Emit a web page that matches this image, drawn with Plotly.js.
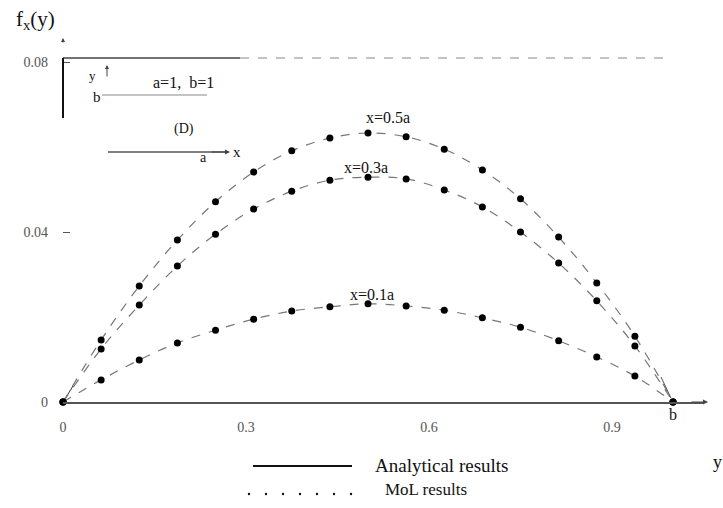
<!DOCTYPE html>
<html>
<head>
<meta charset="utf-8">
<script src="https://cdn.plot.ly/plotly-3.0.1.min.js"></script>
<style>html,body{margin:0;padding:0;background:#fff;}#chart{width:723px;height:508px;}</style>
</head>
<body>
<div id="chart"></div>
<script>
// ---- data ----
const yPos = [0, 0.0625, 0.125, 0.1875, 0.25, 0.3125, 0.375, 0.4375, 0.5, 0.5625, 0.625, 0.6875, 0.75, 0.8125, 0.875, 0.9375, 1.0];
const f05 = [0, 0.0146, 0.0273, 0.0381, 0.0471, 0.0541, 0.0591, 0.0621, 0.0633, 0.0624, 0.0595, 0.0546, 0.0478, 0.0388, 0.0280, 0.0155, 0];
const f03 = [0, 0.0125, 0.0228, 0.0320, 0.0395, 0.0454, 0.0496, 0.0522, 0.0529, 0.0525, 0.0499, 0.0459, 0.0400, 0.0327, 0.0238, 0.0132, 0];
const f01 = [0, 0.0052, 0.0099, 0.0139, 0.0169, 0.0195, 0.0214, 0.0224, 0.0231, 0.0226, 0.0216, 0.0198, 0.0176, 0.0144, 0.0106, 0.0061, 0];
const seriesNames = ['x=0.5a', 'x=0.3a', 'x=0.1a'];
const xTickVals = [0, 0.3, 0.6, 0.9];
const xTickText = ['0', '0.3', '0.6', '0.9'];
const yTickVals = [0, 0.04, 0.08];
const yTickText = ['0', '0.04', '0.08'];

// ---- layout helpers (pixel -> paper) ----
const W = 723, H = 508, ML = 63, MR = 20, MT = 58, MB = 106;
const PW = W - ML - MR, PH = H - MT - MB;
const px = p => (p - ML) / PW;
const py = p => (H - MB - p) / PH;
const SERIF = 'Liberation Serif, Times New Roman, serif';

const allSeries = [f05, f03, f01];
const traces = [];
allSeries.forEach((s, i) => {
  traces.push({x: yPos, y: s, type: 'scatter', mode: 'lines', line: {color: '#777', width: 1.2, dash: 'dash', shape: 'spline'}, name: 'Analytical ' + seriesNames[i], showlegend: false, hoverinfo: 'skip', cliponaxis: false});
});
allSeries.forEach((s, i) => {
  traces.push({x: yPos, y: s, type: 'scatter', mode: 'markers', marker: {color: '#000', size: 7}, name: 'MoL ' + seriesNames[i], showlegend: false, cliponaxis: false});
});

const ann = [];
const txt = (x, y, t, size, opts) => ann.push(Object.assign({xref: 'paper', yref: 'paper', x: px(x), y: py(y), text: t, showarrow: false, font: {family: SERIF, size: size, color: '#111'}, xanchor: 'center', yanchor: 'middle'}, opts || {}));

txt(35, 20, 'f<sub>x</sub>(y)', 21);
// inset diagram
txt(92, 75, 'y', 13);
txt(183, 82, 'a=1,  b=1', 16);
txt(97, 97, 'b', 15);
txt(184, 129, '(D)', 14);
txt(203, 157, 'a', 14);
txt(237, 152, 'x', 15);
// curve labels
txt(388, 117, seriesNames[0], 16);
txt(366, 167, seriesNames[1], 16);
txt(372, 294, seriesNames[2], 16);
// b and y axis label
txt(673, 414, 'b', 16);
txt(711, 462, 'y', 18, {xanchor: 'left'});
// legend
txt(373, 466, 'Analytical results', 19, {xanchor: 'left'});
txt(383, 489, 'MoL results', 17, {xanchor: 'left'});
// arrows
ann.push({xref: 'paper', yref: 'paper', x: px(708), y: py(402), ax: px(690), ay: py(402), axref: 'paper', ayref: 'paper', showarrow: true, arrowhead: 2, arrowsize: 1, arrowwidth: 1, arrowcolor: '#444', text: ''});
ann.push({xref: 'paper', yref: 'paper', x: px(230), y: py(152), ax: px(210), ay: py(152), axref: 'paper', ayref: 'paper', showarrow: true, arrowhead: 2, arrowsize: 1, arrowwidth: 1, arrowcolor: '#444', text: ''});
ann.push({xref: 'paper', yref: 'paper', x: px(107), y: py(65), ax: px(107), ay: py(78), axref: 'paper', ayref: 'paper', showarrow: true, arrowhead: 2, arrowsize: 0.8, arrowwidth: 1, arrowcolor: '#444', text: ''});
ann.push({xref: 'paper', yref: 'paper', x: px(63), y: py(38), ax: px(63), ay: py(44), axref: 'paper', ayref: 'paper', showarrow: true, arrowhead: 2, arrowsize: 0.8, arrowwidth: 1, arrowcolor: '#444', text: ''});

const shapes = [];
const ln = (x0, y0, x1, y1, color, width, dash) => shapes.push({type: 'line', xref: 'paper', yref: 'paper', x0: px(x0), y0: py(y0), x1: px(x1), y1: py(y1), line: {color: color, width: width, dash: dash || 'solid'}});
ln(63, 58, 240, 58, '#444', 1.3);           // top frame (solid part)
ln(240, 58, 672, 58, '#888', 1.2, 'dash');  // top frame (faded part)
ln(63, 58, 63, 118, '#111', 2);             // inset vertical bar
ln(102, 95, 207, 95, '#888', 1.2);          // inset b line
ln(108, 152, 225, 152, '#555', 1.5);        // inset x axis
ln(68, 394, 73, 386, '#333', 1);            // leader near 0
ln(661, 377, 671, 398, '#555', 1);          // leader near b
ln(253, 466, 352, 466, '#111', 2);          // legend line
for (let k = 0; k < 7; k++) {
  const cx = 249 + 17 * k, cy = 494;
  shapes.push({type: 'circle', xref: 'paper', yref: 'paper', x0: px(cx - 1.2), x1: px(cx + 1.2), y0: py(cy + 1.2), y1: py(cy - 1.2), fillcolor: '#111', line: {width: 0}});
}

const layout = {
  width: W, height: H,
  margin: {l: ML, r: MR, t: MT, b: MB, pad: 0},
  paper_bgcolor: '#fff', plot_bgcolor: '#fff',
  showlegend: false,
  xaxis: {range: [0, PW / 610], tickvals: xTickVals, ticktext: xTickText, showgrid: false, zeroline: false, showline: true, linecolor: '#555', linewidth: 1.5, ticks: '', ticklabelstandoff: 12, tickfont: {family: SERIF, size: 14, color: '#555'}},
  yaxis: {range: [0, PH / 4250], tickvals: yTickVals, ticktext: yTickText, showgrid: false, zeroline: false, showline: false, ticks: 'inside', ticklen: 7, tickcolor: '#555', ticklabelstandoff: 14, tickfont: {family: SERIF, size: 14, color: '#555'}},
  annotations: ann,
  shapes: shapes
};

Plotly.newPlot('chart', traces, layout, {displayModeBar: false, staticPlot: true});
</script>
</body>
</html>
